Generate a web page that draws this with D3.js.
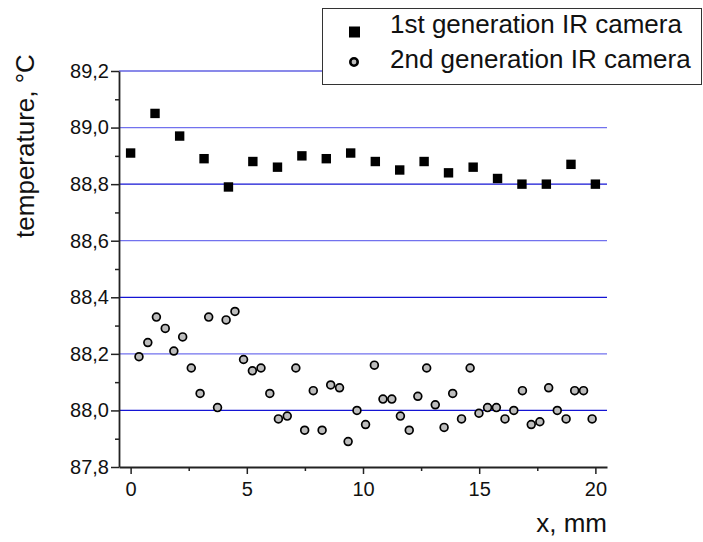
<!DOCTYPE html>
<html>
<head>
<meta charset="utf-8">
<script src="https://cdn.jsdelivr.net/npm/d3@7"></script>
<style>
  body { margin: 0; background: #fff; }
  svg { display: block; font-family: "Liberation Sans", Arial, sans-serif; }
</style>
</head>
<body>
<div class="graph"></div>
<script>
  // 1st generation camera
  const gen1X = [0, 1.05, 2.11, 3.16, 4.21, 5.26, 6.32, 7.37, 8.42, 9.47,
    10.53, 11.58, 12.63, 13.68, 14.74, 15.79, 16.84, 17.89, 18.95, 20];
  const gen1T = [88.91, 89.05, 88.97, 88.89, 88.79, 88.88, 88.86, 88.90, 88.89, 88.91,
    88.88, 88.85, 88.88, 88.84, 88.86, 88.82, 88.80, 88.80, 88.87, 88.80];

  // 2nd generation camera
  const gen2X = [0.36, 0.74, 1.11, 1.49, 1.86, 2.24, 2.61, 2.99, 3.36, 3.74,
    4.11, 4.49, 4.86, 5.24, 5.61, 5.99, 6.36, 6.74, 7.11, 7.49,
    7.86, 8.24, 8.61, 8.99, 9.36, 9.74, 10.11, 10.49, 10.86, 11.24,
    11.61, 11.99, 12.36, 12.74, 13.11, 13.49, 13.86, 14.24, 14.61, 14.99,
    15.36, 15.74, 16.11, 16.49, 16.86, 17.24, 17.61, 17.99, 18.36, 18.74,
    19.11, 19.49, 19.86];
  const gen2T = [88.19, 88.24, 88.33, 88.29, 88.21, 88.26, 88.15, 88.06, 88.33, 88.01,
    88.32, 88.35, 88.18, 88.14, 88.15, 88.06, 87.97, 87.98, 88.15, 87.93,
    88.07, 87.93, 88.09, 88.08, 87.89, 88.00, 87.95, 88.16, 88.04, 88.04,
    87.98, 87.93, 88.05, 88.15, 88.02, 87.94, 88.06, 87.97, 88.15, 87.99,
    88.01, 88.01, 87.97, 88.00, 88.07, 87.95, 87.96, 88.08, 88.00, 87.97,
    88.07, 88.07, 87.97];

  const xTicks = [0, 5, 10, 15, 20];
  const xMinor = [2.5, 7.5, 12.5, 17.5];
  const yTicks = [87.8, 88.0, 88.2, 88.4, 88.6, 88.8, 89.0, 89.2];
  const yMinor = [87.9, 88.1, 88.3, 88.5, 88.7, 88.9, 89.1];
  const seriesNames = ['1st generation IR camera', '2nd generation IR camera'];

  const width = 703, height = 542;
  const plot = { left: 119, right: 607, top: 71, bottom: 467 };

  const xScale = d3.scaleLinear().domain([-0.5, 20.5]).range([plot.left, plot.right]);
  const yScale = d3.scaleLinear().domain([87.8, 89.2]).range([plot.bottom, plot.top]);

  const svg = d3.select('.graph')
    .append('svg')
    .attr('width', width)
    .attr('height', height);

  // grid lines, alternating shade like the original
  svg.append('g')
    .selectAll('line')
    .data(yTicks.slice(1))
    .enter()
    .append('line')
    .attr('x1', plot.left)
    .attr('x2', plot.right)
    .attr('y1', d => yScale(d))
    .attr('y2', d => yScale(d))
    .attr('stroke', (d, i) => i % 2 == 0 ? '#1414d4' : '#7272ee')
    .attr('stroke-width', 1.2);

  const fmt = d => d3.format('.1f')(d).replace('.', ',');

  // y axis
  svg.append('g')
    .attr('transform', `translate(${plot.left},0)`)
    .call(d3.axisLeft(yScale).tickValues(yTicks).tickFormat(fmt).tickSize(8).tickPadding(2).tickSizeOuter(0));
  svg.append('g')
    .attr('transform', `translate(${plot.left},0)`)
    .call(d3.axisLeft(yScale).tickValues(yMinor).tickFormat('').tickSize(4).tickSizeOuter(0))
    .select('.domain').remove();

  // x axis
  svg.append('g')
    .attr('transform', `translate(0,${plot.bottom})`)
    .call(d3.axisBottom(xScale).tickValues(xTicks).tickSize(7).tickPadding(8).tickSizeOuter(0));
  svg.append('g')
    .attr('transform', `translate(0,${plot.bottom})`)
    .call(d3.axisBottom(xScale).tickValues(xMinor).tickFormat('').tickSize(4).tickSizeOuter(0))
    .select('.domain').remove();

  svg.selectAll('.domain').attr('stroke', '#222').attr('stroke-width', 1.8);
  svg.selectAll('.tick line').attr('stroke', '#222').attr('stroke-width', 1.5);
  svg.selectAll('.tick text')
    .attr('fill', '#111')
    .style('font-size', '20px')
    .style('font-family', '"Liberation Sans", Arial, sans-serif');

  // axis titles
  svg.append('text')
    .attr('x', plot.right)
    .attr('y', 532)
    .attr('text-anchor', 'end')
    .style('font-size', '26px')
    .attr('fill', '#111')
    .text('x, mm');

  svg.append('text')
    .attr('transform', 'translate(34,146) rotate(-90)')
    .attr('text-anchor', 'middle')
    .style('font-size', '26px')
    .attr('fill', '#111')
    .text('temperature, °C');

  // points
  const gen1 = gen1X.map((x, i) => ({ x: x, t: gen1T[i] }));
  const gen2 = gen2X.map((x, i) => ({ x: x, t: gen2T[i] }));
  const sq = 9.4;

  svg.append('g')
    .selectAll('rect')
    .data(gen1)
    .enter()
    .append('rect')
    .attr('x', d => xScale(d.x) - sq / 2)
    .attr('y', d => yScale(d.t) - sq / 2)
    .attr('width', sq)
    .attr('height', sq)
    .attr('fill', '#000');

  svg.append('g')
    .selectAll('circle')
    .data(gen2)
    .enter()
    .append('circle')
    .attr('cx', d => xScale(d.x))
    .attr('cy', d => yScale(d.t))
    .attr('r', 3.9)
    .attr('fill', '#bdbdbd')
    .attr('stroke', '#000')
    .attr('stroke-width', 1.7);

  // legend
  const legend = svg.append('g');
  legend.append('rect')
    .attr('x', 322.5)
    .attr('y', 8.5)
    .attr('width', 379)
    .attr('height', 76)
    .attr('fill', '#fff')
    .attr('stroke', '#333')
    .attr('stroke-width', 1);
  legend.append('rect')
    .attr('x', 349)
    .attr('y', 26.5)
    .attr('width', 11)
    .attr('height', 11)
    .attr('fill', '#000');
  legend.append('circle')
    .attr('cx', 354)
    .attr('cy', 62)
    .attr('r', 3.7)
    .attr('fill', '#bdbdbd')
    .attr('stroke', '#000')
    .attr('stroke-width', 2.6);
  legend.selectAll('text')
    .data(seriesNames)
    .enter()
    .append('text')
    .attr('x', 390)
    .attr('y', (d, i) => 33 + i * 35)
    .style('font-size', '26px')
    .attr('fill', '#111')
    .text(d => d);
</script>
</body>
</html>
